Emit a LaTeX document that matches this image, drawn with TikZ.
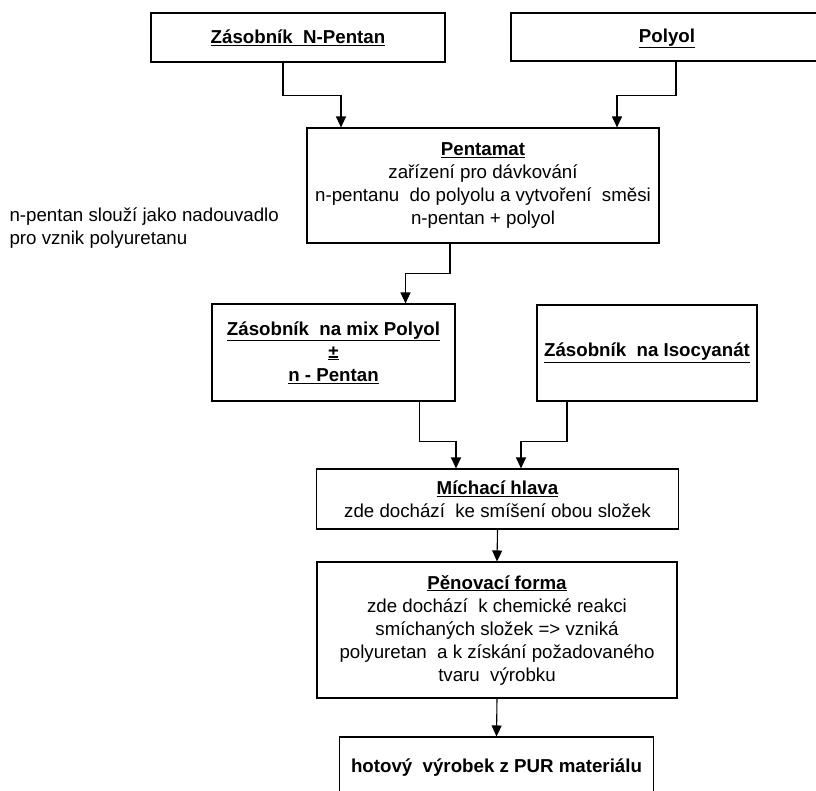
\documentclass[tikz,border=0pt]{standalone}
\usepackage{fontspec}
\setmainfont{Liberation Sans}
\usetikzlibrary{arrows.meta, calc}
\tikzset{
  every picture/.style={font=\fontsize{18.7}{23}\selectfont, line width=1.1pt},
  box/.style={draw=black, rectangle, align=center, inner sep=0pt},
  arrow/.style={-{Triangle[length=11pt, width=10pt]}, draw=black, line width=1.1pt},
  note/.style={align=left, inner sep=0pt},
}

\begin{document}
\begin{tikzpicture}[x=1pt, y=-1pt]
  \useasboundingbox (0,0) rectangle (816,790);
  \node[box, minimum width=294pt, minimum height=49pt] (zn) at (298,37.5) {\textbf{\underline{Zásobník\ \ N-Pentan}}};
  \node[box, minimum width=312pt, minimum height=48pt] (zp) at (667,37) {\raisebox{-5pt}[0pt][0pt]{\textbf{\underline{Polyol}}}};
  \node[box, minimum width=352pt, minimum height=115pt] (pm) at (483,185.5) {\textbf{\underline{Pentamat}}\\zařízení pro dávkování\\n-pentanu\ \ do polyolu a vytvoření\ \ směsi\\n-pentan + polyol};
  \node[box, minimum width=243pt, minimum height=97pt] (mx) at (333.5,352.5) {\textbf{\underline{Zásobník\ \ na mix Polyol}}\\\textbf{\underline{±}}\\\textbf{\underline{n - Pentan}}};
  \node[box, minimum width=220pt, minimum height=96pt] (iso) at (647,353) {\textbf{\underline{Zásobník\ \ na Isocyanát}}};
  \node[box, minimum width=362pt, minimum height=60pt] (mh) at (497.5,499) {\textbf{\underline{Míchací hlava}}\\zde dochází\ \ ke smíšení obou složek};
  \node[box, minimum width=360pt, minimum height=136pt] (pf) at (497,630) {\textbf{\underline{Pěnovací forma}}\\zde dochází\ \ k chemické reakci\\smíchaných složek => vzniká\\polyuretan\ \ a k získání požadovaného\\tvaru\ \ výrobku};
  \node[box, minimum width=314pt, minimum height=62pt] (hv) at (496.5,768) {\textbf{hotový\ \ výrobek z PUR materiálu}};
  \node[note, anchor=west] (np) at (9,228) {n-pentan slouží jako nadouvadlo\\pro vznik polyuretanu};

  \draw[arrow] ($(zn.south)+(-15,0)$) -- ++(0,33) -| ($(pm.north)+(-142,0)$);
  \draw[arrow] ($(zp.south)+(9,0)$) -- ++(0,34) -| ($(pm.north)+(134,0)$);
  \draw[arrow] ($(pm.south)+(-33,0)$) -- ++(0,30) -| ($(mx.north)+(72,0)$);
  \draw[arrow] ($(mx.south)+(86,0)$) -- ++(0,40) -| ($(mh.north)+(-41.5,0)$);
  \draw[arrow] ($(iso.south)+(-80,0)$) -- ++(0,40) -| ($(mh.north)+(23.5,0)$);
  \draw[arrow] (mh.south) -- (pf.north);
  \draw[arrow] (pf.south) -- (hv.north);
\end{tikzpicture}
\end{document}
